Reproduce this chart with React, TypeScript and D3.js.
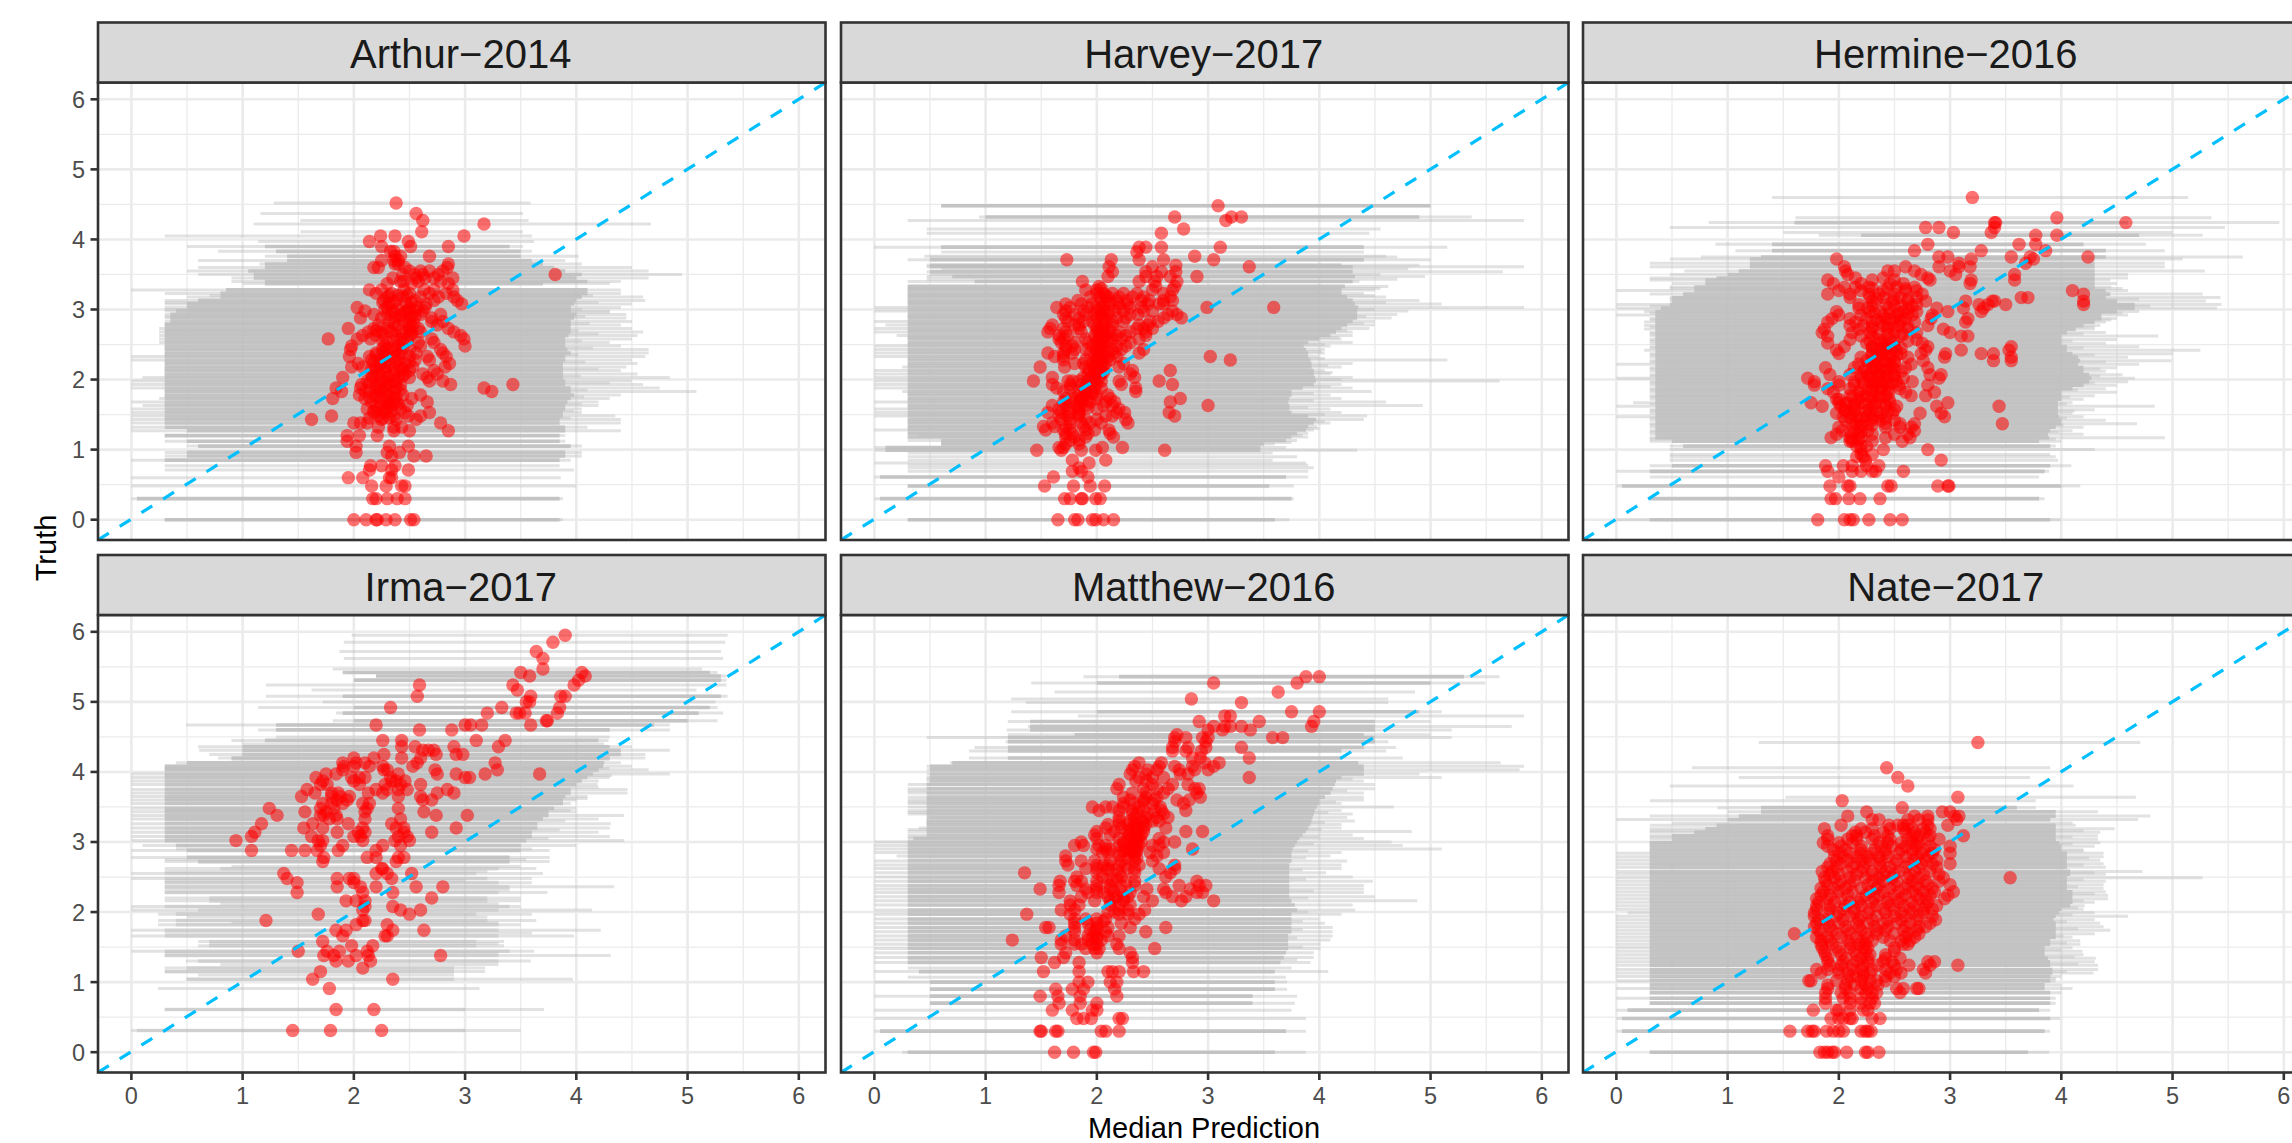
import React, { useEffect, useRef } from 'react';
import * as d3 from 'd3';

// each row: truth, lower, core lower, core upper, upper, then the medians at that truth
type Row = number[];

const stormNames = ['Arthur\u22122014', 'Harvey\u22122017', 'Hermine\u22122016', 'Irma\u22122017', 'Matthew\u22122016', 'Nate\u22122017'];
const tickValues = [0, 1, 2, 3, 4, 5, 6];
const minorValues = [0.5, 1.5, 2.5, 3.5, 4.5, 5.5];
// below this truth the grey is only a few stacked ranges, so it stays lighter
const thinCoreBelow = [0, 0, 0, 2.7, 0, 0];

const arthur: Row[] = [
  [4.52,1.28,0,0,3.59,2.38],[4.37,1.16,0,0,3.52,2.56],[4.27,1.52,0,0,3.57,2.62],[4.22,1.1,0,0,4.67,3.17],[4.11,1.52,0,0,3.52,2.61],
  [4.05,0.3,0,0,3.6,2.99,2.24,2.37],[3.97,1.14,0,0,3.62,2.14,2.49],[3.9,0.5,1.2,3.4,3.52,2.25,2.51,2.85],[3.83,0.78,1.3,3.5,3.6,2.36,2.33],
  [3.76,1.2,1.4,3.5,4.02,2.68,2.37,2.42],[3.7,0.6,1.4,3.6,3.9,2.25,2.36,2.4],[3.65,1.15,1.2,3.7,4.05,2.85,2.37,2.4],
  [3.6,0.6,1.2,3.8,4.5,2.22,2.18,2.84,2.46],[3.55,0.5,1.05,3.9,4.65,2.8,2.5,2.6,2.68],[3.5,0.6,1.1,4.05,4.95,3.81,2.44,2.55,2.62,2.76],
  [3.45,0.9,1.1,4,4.65,2.89,2.56,2.64,2.35,2.72],[3.4,0.9,1.2,4.1,4.4,2.45,2.58,2.42,2.78],[3.37,1,1.2,3.7,4.3,2.3,2.52,2.85],
  [3.28,0,0.85,4.1,4.4,2.14,2.25,2.45,2.63,2.72,2.89],[3.23,0.3,0.8,4.1,4.4,2.2,2.34,2.5,2.68,2.83],[3.18,0.5,0.8,4.05,4.6,2.3,2.44,2.6,2.76,2.9],
  [3.13,0.3,0.6,4,4.62,2.27,2.38,2.55,2.72,2.93],[3.08,0.3,0.5,3.98,4.5,2.32,2.47,2.65,2.97],[3.03,0.3,0.5,3.95,4.4,2.03,2.3,2.5,2.57,2.64],
  [2.98,0.3,0.4,3.95,4.3,2.1,2.34,2.48,2.55,2.62],[2.93,0.3,0.35,4,4.45,2.18,2.3,2.42,2.6,2.78],[2.88,0.3,0.35,3.98,4.45,2.06,2.25,2.37,2.5,2.7],
  [2.83,0.3,0.35,3.95,4.5,2.32,2.45,2.7,2.8],[2.78,0.3,0.3,3.95,4.4,2.22,2.4,2.52,2.75],[2.73,0.25,0.3,3.95,4.5,1.95,2.18,2.3,2.5,2.58,2.85],
  [2.68,0.25,0.3,3.95,4.6,2.13,2.24,2.34,2.52,2.6,2.9],[2.63,0.25,0.3,3.93,4.55,2.08,2.2,2.38,2.5,2.96],[2.58,0.25,0.3,3.9,4.5,1.77,2.03,2.15,2.42,2.7,2.99],
  [2.53,0.25,0.3,3.9,4.3,2.3,2.44,2.58,2.72],[2.48,0.3,0.3,3.9,4.4,1.98,2.28,2.4,2.6,3.0],[2.43,0.3,0.3,3.92,4.65,1.97,2.3,2.38,2.5,2.78],
  [2.38,0.3,0.3,3.95,4.65,2.2,2.26,2.42,2.56,2.8],[2.33,0,0.3,3.9,4.62,1.96,2.14,2.28,2.36,2.5,2.66,2.83],[2.28,0,0.3,3.9,4.5,2.16,2.24,2.4,2.55,2.68],
  [2.23,0.3,0.3,3.88,4.55,2.04,2.24,2.32,2.46,2.86],[2.18,0.3,0.3,3.88,4.45,1.98,2.08,2.2,2.3,2.42,2.53,2.82],[2.13,0.3,0.3,3.88,4.4,2.18,2.28,2.42,2.5,2.72],
  [2.08,0.3,0.3,3.88,4.55,2.22,2.36,2.46,2.62,2.75],[2.03,0.1,0.3,3.88,4.84,1.9,2.17,2.3,2.4,2.5,2.66],[1.98,0,0.3,3.9,4.5,2.12,2.26,2.36,2.68,2.8],
  [1.93,0,0.3,3.9,4.6,2.07,2.2,2.32,2.42,2.87,3.43],[1.88,0,0.3,3.95,4.75,1.84,2.06,2.2,2.28,2.38,3.17],[1.83,0.3,0.3,3.95,5.08,1.89,2.1,2.24,2.36,3.24],
  [1.78,0.3,0.3,3.98,4.4,2.05,2.2,2.32,2.44,2.6],[1.73,0.25,0.3,3.95,4.3,1.81,2.1,2.25,2.36,2.52],[1.68,0,0.3,3.92,4.2,2.16,2.3,2.38,2.66],
  [1.63,0.1,0.3,3.9,4.2,2.2,2.32,2.48],[1.58,0,0.3,3.9,4.05,2.12,2.22,2.3,2.42],[1.53,0,0.3,3.88,4.05,2.18,2.28,2.46,2.68],
  [1.48,0,0.3,3.88,4.35,1.8,2.22,2.36,2.49,2.6],[1.43,0,0.3,3.85,4.4,1.62,2.25,2.38,2.56],[1.38,0,0.3,3.85,4.4,2.0,2.06,2.12,2.78],
  [1.32,0,0.3,3.9,4.1,2.22,2.36,2.43],[1.27,0,0.5,3.9,4.4,2.36,2.5,2.85],[1.2,0.3,0.3,3.85,3.9,1.94,2.05,2.21],[1.12,0.3,0.5,3.85,3.9,1.94],
  [1.05,0.5,0.6,3.95,4.05,2.02,2.32,2.49],[0.96,0.3,0.5,3.9,4.05,2.02,2.3,2.41],[0.91,0.3,0.5,3.9,4.05,2.34,2.54,2.65],[0.85,0,0.3,3.85,3.95],
  [0.77,0.3,0,0,3.85,2.15,2.25,2.37],[0.71,0.3,0,0,3.98,2.14,2.34,2.49],[0.6,0,0,0,3.86,1.95,2.08,2.32,2.34],[0.48,0,0,0,4,2.16,2.29,2.43,2.46],
  [0.3,0,0.05,3.85,3.88,2.17,2.2,2.3,2.39,2.46],[0,0.3,0.3,3.85,3.88,2,2.11,2.2,2.21,2.29,2.37,2.51,2.54],
];

const arthurDense: Row[] = [
  [3.2,0.7,0,0,4.15,2.32,2.4,2.48],[3.1,0.3,0,0,4.2,2.26,2.36,2.52],[3.0,0.3,0,0,4.05,2.28,2.4,2.5],[2.96,0.5,0,0,4.3,2.36,2.46],[2.9,0.3,0,0,4.08,2.42,2.52,2.55],
  [2.8,0.3,0,0,4.12,2.36,2.5,2.54],[2.7,0.3,0,0,4.02,2.2,2.32,2.42,2.5],[2.65,0.3,0,0,4.2,2.26,2.44,2.52],[2.55,0.3,0,0,4.05,2.26,2.36,2.48],[2.45,0.3,0,0,4.15,2.26,2.34,2.44],
  [2.35,0.3,0,0,4.02,2.2,2.3,2.4],[2.25,0.3,0,0,4.08,2.18,2.28,2.38,2.5],[2.15,0.3,0,0,4.2,2.16,2.24,2.36,2.44],[2.05,0.3,0,0,4.04,2.16,2.24,2.32,2.44],[1.95,0.3,0,0,4.3,2.14,2.24,2.3,2.38],
  [1.85,0.3,0,0,4.1,2.14,2.22,2.3,2.42],[1.75,0.3,0,0,4.07,2.14,2.2,2.3,2.38],[1.65,0.3,0,0,4.05,2.24,2.3,2.36,2.4],[1.55,0.3,0,0,3.98,2.18,2.26,2.34],[1.45,0.3,0,0,3.95,2.14,2.26,2.32],
];

const harvey: Row[] = [
  [4.48,0.6,0.6,5,5,3.09],[4.32,0.94,1,4.9,5.37,2.7,3.21,3.3],[4.27,0.3,0,0,5.84,3.16],[4.15,0.47,0,0,4.55,2.78],[4.09,0.47,0,0,4.45,2.58],
  [3.89,0,0.6,4.4,5.15,2.58,2.44,2.38,3.11],[3.82,0.6,0,0,4.4,2.36],[3.76,0.45,0,0,4.6,2.88],[3.71,0.3,0.5,4.4,5,2.13,2.6,3.05,1.73,2.38],[3.63,0.47,0.5,4.2,4.9,2.71],
  [3.61,0.47,0.5,4.3,5.84,3.37,2.5,2.11],[3.54,0.47,0.5,4.3,5.65,2.14,2.44,2.58,2.71],[3.47,0.47,0.7,4.32,4.95,2.9,2.54,2.1,2.44,2.66],[3.4,0.3,0.9,4.3,4.36,1.87,2.38,2.52,2.72],
  [3.33,0.3,0.3,4.23,4.62,2.02,2.53,2.7],[3.28,0.3,0.3,4.2,4.5,1.9,2.0,2.5,2.68],[3.23,0.3,0.3,4.2,4.4,2.0,2.06,2.14,2.24,2.36,2.6],
  [3.18,0.3,0.3,4.25,4.6,1.94,2.03,2.1,2.2,2.32,2.42,2.66],[3.13,0.3,0.3,4.3,4.9,1.83,2.04,2.1,2.18,2.27,2.4,2.47,2.6,2.68],[3.08,0.3,0.3,4.32,5.1,1.72,1.86,1.96,2.07,2.12,2.2,2.28,2.46,2.56,2.6],
  [3.03,0,0.3,4.35,5.84,1.64,1.76,1.92,2.0,2.04,2.2,2.3,2.4,2.99,3.59],[2.98,0,0.3,4.34,4.8,1.72,1.88,2.0,2.06,2.1,2.16,2.24,2.42,2.5,2.68],[2.93,0.3,0.3,4.34,4.7,1.7,1.8,1.9,1.98,2.04,2.1,2.3,2.37,2.64,2.72],
  [2.88,0.3,0.3,4.34,4.65,1.72,1.84,2.0,2.05,2.18,2.26,2.6,2.76],[2.83,0,0.3,4.3,4.5,1.74,1.88,1.96,2.08,2.14,2.24,2.48,2.55],[2.78,0.1,0.3,4.25,4.5,1.6,1.8,1.84,1.98,2.06,2.14,2.38,2.46],
  [2.73,0,0.3,4.2,4.45,1.58,1.7,1.84,2.0,2.05,2.1,2.36,2.42,2.5],[2.68,0,0.3,4.15,4.3,1.56,1.72,1.86,2.0,2.06,2.12,2.2,2.3,2.44],[2.63,0.2,0.3,4.1,4.3,1.66,1.74,1.98,2.04,2.08,2.18,2.26,2.44],
  [2.58,0.3,0.3,4,4.2,1.66,1.7,1.9,2.02,2.06,2.14,2.22,2.38],[2.53,0.3,0.3,3.9,4.3,1.68,1.8,1.92,2.0,2.04,2.12,2.3],[2.48,0,0.3,3.86,4.1,1.72,1.78,1.96,2.0,2.06,2.18,2.26],
  [2.43,0,0.3,3.88,4.05,1.72,1.8,1.9,2.0,2.03,2.14,2.22,2.42],[2.38,0,0.3,3.9,4.05,1.56,1.7,1.78,1.94,2.0,2.06,2.16,2.38],[2.33,0,0.3,3.9,4.0,1.62,1.7,1.98,2.02,2.1,2.18,3.02],
  [2.28,0.3,0.3,3.92,5.15,1.7,1.9,2.0,2.04,2.12,3.2],[2.23,0.3,0.3,3.93,4.3,1.8,1.88,1.96,2.0,2.08,2.24],[2.18,0.25,0.3,3.93,4.2,1.49,1.71,1.9,1.98,2.04,2.2],
  [2.13,0,0.3,3.95,4.05,1.93,1.98,2.03,2.66,2.32],[2.08,0,0.3,3.95,4.1,1.92,1.98,2.04,2.3],[2.03,0,0.3,3.96,4.3,1.6,1.88,1.96,2.02,2.34],
  [1.98,0,0.3,3.97,5.62,1.43,1.74,1.78,1.84,1.92,1.98,2.04,2.56,2.2],[1.93,0,0.3,3.95,4.2,1.6,1.76,1.86,2.0,2.68,2.22],[1.88,0,0.3,3.85,4.3,1.64,1.76,1.9,1.98,2.04,2.35],
  [1.83,0.25,0.3,3.75,4.47,1.7,1.82,1.9,1.96,2.35],[1.78,0.3,0.3,3.75,4.1,1.84,1.9,2.0,2.1],[1.73,0.3,0.3,3.73,4.2,1.72,1.8,1.86,2.0,2.12,2.75],
  [1.68,0,0.3,3.72,4.6,1.7,1.76,1.84,1.94,2.08,2.66,2.16],[1.63,0.3,0.3,3.73,4.93,1.6,1.72,1.82,1.9,2.06,2.14,3.0],[1.58,0,0.3,3.73,4.1,1.66,1.74,1.84,2.0,2.2],
  [1.53,0,0.3,3.75,4.2,1.56,1.68,1.76,1.84,2.18,2.25,2.65],[1.48,0,0.3,3.9,4.43,1.66,1.74,1.84,2.08,2.14,2.7],[1.43,0.3,0.3,3.97,4.4,1.68,1.76,1.9,2.0,2.26],
  [1.38,0.3,0.3,3.95,4.1,1.6,1.76,1.86,1.94,2.04,2.28],[1.33,0.3,0.3,3.9,3.98,1.52,1.62,1.72,1.88],[1.28,0,0.3,3.88,3.95,1.54,1.7,1.76,1.9,1.98,2.11],
  [1.23,0.3,0.3,3.8,3.9,1.72,1.78,1.92,2.12],[1.18,0.3,0.3,3.75,3.9,1.72,1.8,1.9,2.15],[1.13,0.3,0.6,3.7,3.8,1.76,1.84],
  [1.08,0.6,0.6,3.5,3.6,1.72,1.84],[1.03,0,0.1,3.47,3.7,1.66,1.7,2.05,2.23],[0.99,0,0.1,3.47,4.34,1.46,1.68,1.86,1.99,2.61],
  [0.85,0.3,0,0,3.58,2.08,1.78],[0.81,0,0,0,3.88,1.93],[0.74,0.3,0,0,3.95,1.84],[0.69,0.3,0,0,3.9,1.78,1.86],[0.61,0,0.05,3.7,3.9,1.92,1.61],
  [0.48,0.3,0.3,3.55,3.77,1.53,1.79,1.94,2.07],[0.3,0,0.05,3.75,3.77,1.71,1.76,1.86,1.87,1.99,2.03],[0,0.3,0.3,3.6,3.73,1.65,1.8,1.83,1.96,1.99,2.06,2.15],
];

const harveyDense: Row[] = [
  [3.75,0.5,0,0,4.7],[3.58,0.6,0,0,4.8],[3.5,0.5,0,0,4.55],[3.43,0.47,0,0,4.7],[3.3,0.3,0,0,4.55,2.04],[3.2,0.3,0,0,4.5,2.08],[3.1,0.3,0,0,4.6],[3.0,0.3,0,0,4.5],
  [2.9,0.3,0,0,4.42,2.06],[2.8,0.3,0,0,4.4],[2.7,0.3,0,0,4.25,2.02],[2.6,0.3,0,0,4.18,2.02,2.1],[2.5,0.3,0,0,4.05,2.04],[2.4,0.3,0,0,4.02,2.04,2.1],[2.3,0.3,0,0,4.05,2.02,2.06],
  [2.2,0.3,0,0,4.08,2.0,2.06],[2.1,0.3,0,0,4.12,2.0,2.06],[2.0,0.3,0,0,4.2,1.94],[1.9,0.3,0,0,4.1,1.9,1.94],[1.8,0.3,0,0,3.95,1.9,1.96],[1.7,0.3,0,0,3.95,1.86,1.92],[1.6,0.3,0,0,3.9,1.84,1.92],[1.5,0.3,0,0,4.05,1.84],[1.4,0.3,0,0,4.05],[1.3,0.3,0,0,4.0],
  [1.2,0.4,0,0,3.85],[1.1,0.6,0,0,3.75],[0.95,0.3,0,0,3.58],[0.9,0.3,0,0,3.8],[0.78,0.3,0,0,3.9],
];

const hermine: Row[] = [
  [4.6,1.4,0,0,5.14,3.2],[4.31,1.61,0,0,5.35,3.96],[4.24,0.83,1.6,4.6,5.96,4.58,3.41,3.4],[4.17,0.48,0,0,5.47,2.78,2.9,3.4],[4.1,1.5,0,0,5,3.03,3.37],
  [4.06,1.82,2.2,4.7,5.27,3.77,3.96],[3.93,0.89,1.4,4.2,4.76,2.8,3.62,3.77],[3.84,1.07,1.4,4.4,4.93,2.68,3.28,3.86],[3.75,0.76,1.3,4.4,5.63,3.55,2.98,4.24,2.9,3.72],
  [3.72,0.48,1.2,4.3,5.09,1.98,3.19,3.75],[3.66,0.3,1.2,4.3,4.93,3.68,3.08],[3.61,0.3,1.2,4.3,4.93,2.05,2.6,2.9,3.18,3.08],[3.55,0.61,1.1,4.3,5.29,2.06,2.44,2.5,2.68,3.0],
  [3.5,0.48,1,4.3,4.6,2.08,2.74,3.05,3.58],[3.45,0.3,0.9,4.3,4.6,2.15,2.4,2.8],[3.42,0.3,0.8,4.3,4.44,1.9,2.3,2.5,2.82,3.19,3.58],[3.37,0.5,0.8,4.3,4.5,1.95,2.2,2.58,2.46,3.18],
  [3.32,0.48,0.7,4.3,4.45,2.05,2.15,2.27,2.52,2.68],[3.27,0,0.7,4.4,4.6,2.0,2.2,2.4,2.6,2.7,4.1],[3.22,0.3,0.6,4.44,5.27,1.9,2.1,2.27,2.36,2.5,2.75,4.2],
  [3.17,0.48,0.5,4.4,5.43,2.1,2.28,2.4,2.55,2.7,3.64,3.7],[3.12,0.48,0.5,4.5,5.3,2.3,2.48,2.62,2.78,3.14,3.38,3.4,4.2],[3.07,0,0.48,4.66,5.44,2.18,2.7,2.42,3.34,3.26,3.5,4.2],
  [3.02,0,0.4,4.66,5.4,2.18,2.26,2.45,2.62,2.88,3.12,3.3],[2.97,0.25,0.35,4.5,4.7,1.98,2.28,2.37,2.58,2.7,2.98,3.28],[2.92,0,0.35,4.36,4.6,2.0,2.2,2.4,2.52,2.66,2.84],
  [2.87,0.3,0.35,4.36,4.5,1.94,2.1,2.25,2.42,2.5,2.6,2.83,3.16],[2.82,0.25,0.35,4.3,4.4,1.9,2.15,2.3,2.38,2.55,2.68,3.14],[2.77,0.25,0.35,4.2,4.35,2.1,2.22,2.4,2.54,2.8],
  [2.72,0.25,0.35,4.13,4.3,1.87,2.18,2.3,2.44,2.62,2.94],[2.67,0.3,0.35,4.05,4.4,1.85,2.12,2.28,2.5,2.7,3.0],[2.62,0.3,0.35,4,4.87,1.9,2.2,2.3,2.55,3.1,3.16],
  [2.57,0.3,0.35,4,4.5,2.1,2.36,2.46,2.7],[2.52,0.3,0.35,4,4.4,1.9,2.25,2.38,2.44,2.75],[2.47,0.3,0.35,4.05,4.7,2.05,2.3,2.42,2.5,2.8,3.55],
  [2.42,0.25,0.35,4.05,5.25,1.98,2.34,2.42,2.52,2.78,3.53,3.1],[2.37,0.3,0.35,4.1,5,2.0,2.3,2.4,2.56,2.74,3.28,3.39,2.96],[2.32,0.3,0.35,4.15,4.6,2.2,2.34,2.46,2.62,2.95,3.55],
  [2.27,0.3,0.35,4.17,4.99,2.25,2.4,2.5,2.76,3.55,3.39],[2.22,0,0.35,4.15,4.7,2.18,2.33,2.46,2.65],[2.17,0.3,0.35,4.2,4.5,1.88,2.14,2.32,2.48,2.6,2.8],
  [2.12,0.3,0.35,4.2,4.4,2.22,2.34,2.42,2.56],[2.07,0.3,0.35,4.25,4.55,1.92,2.1,2.26,2.38,2.5,2.82,2.92],[2.02,0,0.35,4.27,4.66,1.72,2.2,2.3,2.42,2.58,2.9],
  [1.97,0.3,0.35,4.25,4.6,1.78,2.0,2.14,2.28,2.38,2.52,2.66],[1.92,0.3,0.35,4.2,4.5,1.78,2.0,2.14,2.32,2.44,2.54,2.8],[1.87,0.3,0.35,4.1,4.4,1.9,2.1,2.26,2.38,2.55],
  [1.82,0.3,0.35,4,4.5,1.95,2.18,2.3,2.45,2.6,2.86],[1.77,0.3,0.35,4,4.3,2.1,2.24,2.36,2.42,2.65,2.78],[1.72,0.3,0.35,4,4.2,1.98,2.0,2.18,2.3,2.45],
  [1.67,0.15,0.35,3.97,4.1,1.75,2.0,2.08,2.2,2.34,2.46,2.98],[1.62,0,0.35,3.97,4.84,1.85,2.02,2.14,2.3,2.42,2.52,2.88,3.44],[1.57,0.3,0.35,3.97,4.3,2.05,2.14,2.26,2.5],
  [1.52,0.3,0.35,3.97,4.1,1.98,2.1,2.28,2.38,2.48,2.73,2.92],[1.47,0,0.35,3.98,4.2,2.04,2.16,2.25,2.36,2.95],[1.42,0.3,0.35,4,4.4,2.06,2.18,2.3,2.38,2.5],
  [1.37,0.3,0.35,4,4.68,2.15,2.26,2.42,2.55,2.68,3.47],[1.32,0.3,0.35,3.95,4.2,2.0,2.2,2.42,2.55,2.65],[1.27,0.3,0.35,3.9,4.1,2.03,2.14,2.26,2.68],
  [1.22,0.3,0.35,3.88,4.2,1.98,2.18,2.3,2.5,2.62],[1.17,0.3,0.35,3.89,4.93,1.93,2.1,2.2,2.42,2.64],[1.12,0.3,0.5,3.8,4.0,2.1,2.12,2.3,2.57],
  [1.05,0.48,0.6,3.9,3.95,2.16,2.25,2.2],[1,0.48,0,0,4.3,2.2,2.4,2.8],[0.93,0.48,0,0,3.9,2.2,2.3],[0.85,0.48,0,0,3.97,2.24,2.92],[0.77,0.3,0.5,3.9,4.09,1.88,2.04,2.12,2.25,2.36],
  [0.69,0,0.3,3.85,3.89,1.9,2.12,2.2,2.3,2.33,2.58],[0.61,0.3,0,0,3.8,2.0],[0.48,0,0.05,4,4.17,1.92,2.08,2.1,2.44,2.47,2.89,2.98,2.99],[0.3,0.3,0.3,3.8,3.85,1.93,1.97,2.09,2.19,2.37],
  [0,0,0.3,3.9,4,1.81,2.05,2.1,2.13,2.27,2.46,2.57],
];

const hermineDense: Row[] = [
  [3.3,0.48,0,0,4.55,2.3,2.44,2.6],[3.15,0.48,0,0,4.7,2.34,2.5,2.62],[3.05,0.3,0,0,4.8,2.3,2.5,2.56,2.66],[2.95,0.3,0,0,4.55,2.32,2.46,2.54,2.62],[2.85,0.3,0,0,4.45,2.34,2.46,2.56],
  [2.75,0.3,0,0,4.3,2.3,2.44,2.5,2.62],[2.65,0.3,0,0,4.2,2.36,2.44,2.58],[2.55,0.3,0,0,4.1,2.28,2.4,2.5,2.62],[2.45,0.3,0,0,4.2,2.3,2.38,2.46,2.56],[2.35,0.3,0,0,4.3,2.3,2.38,2.46,2.52],
  [2.25,0.3,0,0,4.4,2.3,2.36,2.42,2.5],[2.15,0.3,0,0,4.35,2.24,2.3,2.38,2.44,2.5],[2.05,0.3,0,0,4.35,2.2,2.28,2.36,2.44,2.5],[1.95,0.3,0,0,4.3,2.22,2.3,2.36,2.42,2.48],[1.85,0.3,0,0,4.15,2.2,2.3,2.38,2.44],
  [1.75,0.3,0,0,4.08,2.12,2.2,2.3,2.36],[1.65,0.3,0,0,4.05,2.06,2.14,2.24,2.32,2.42],[1.55,0.3,0,0,4.12,2.06,2.14,2.24,2.34,2.44],[1.45,0.3,0,0,4.05,2.1,2.2,2.3,2.42],[1.35,0.3,0,0,4.02,2.12,2.2,2.3],
  [1.25,0.3,0,0,3.98,2.1,2.2],[1.15,0.3,0,0,3.95,2.12,2.18],[0.9,0.48,0,0,3.95,2.16,2.22],
];

const irma: Row[] = [
  [5.95,1.98,0,0,5.36,3.9],[5.85,1.91,0,0,5.34,3.79],[5.72,1.87,0,0,5.3,3.64],[5.62,1.91,0,0,5.32,3.7],[5.47,1.81,0,0,5.13,3.7],[5.42,1.96,1.9,5.2,5.27,3.5,4.05],
  [5.37,2.2,2.2,5.3,5.35,3.58,4.08],[5.31,2,2,5.3,5.35,4.02],[5.24,1.21,0,0,5.35,2.59,3.43,3.98],[5.17,1.62,0,0,5.08,3.47],[5.08,1.21,1.9,5.3,5.36,2.57,3.59,3.86,3.9],
  [5.0,1.72,0,0,5.25,3.58,3.55],[4.92,1.14,2,5.2,5.27,2.33,3.33,3.85],[4.84,1.84,1.9,5.1,5.32,3.2,3.46,3.49,3.54,3.83],[4.73,1.81,2,5,5.27,3.74,3.73],
  [4.67,0.49,1.3,4.7,4.84,2.2,3,3.05,3.15,3.59],[4.6,1.14,1.3,4.3,4.84,2.59,2.88],[4.45,0.9,1.2,4.2,4.29,2.26,3.36,2.43,3.1],[4.36,0.6,1,4.3,4.5,2.43,2.9,2.55,3.3],
  [4.31,0.61,1,4.4,4.84,2.62,2.67,2.72],[4.25,0.7,1,4.4,4.62,2.27,2.92,2.74,2.98],[4.2,0.78,0.9,4.3,4.62,2.0,2.18,2.43,2.6],[4.13,0.4,0.5,4.25,4.4,1.9,2.02,2.1,3.27,2.57],
  [4.08,0.3,0.3,4.24,4.5,1.91,2.0,2.14,2.53,2.26],[4.03,0.3,0.3,4.2,4.65,1.9,2.27,2.3,2.73,3.29],[3.97,0,0.3,4.15,4.84,1.75,1.84,2.4,2.75,2.92,3.18,3.67],[3.92,0,0.3,4.1,4.3,1.66,1.98,2.05,2.1,2.33,3.0,3.04],
  [3.87,0,0.3,4.05,4.2,1.72,2.0,2.34,2.38,2.46],[3.82,0,0.3,4,4.19,1.7,1.76,2.05,2.28,2.42,2.6],[3.75,0,0.3,3.95,4.46,1.58,2.2,2.3,2.4,2.48,2.84],[3.7,0,0.3,3.95,4.46,1.65,1.8,1.86,2.13,2.26,2.75,2.9],
  [3.65,0,0.3,3.9,4.1,1.53,1.8,1.88,1.96,2.4,2.6],[3.6,0,0.3,3.88,4.0,1.85,1.94,2.7,2.62],[3.55,0,0.3,3.88,3.95,1.72,1.8,1.9,2.08,2.14],[3.48,0,0.3,3.8,4.0,1.24,1.7,1.82,2.4,2.12],
  [3.43,0,0.3,3.75,4.0,1.56,1.75,2.1,2.63],[3.38,0,0.3,3.75,4.43,1.31,1.73,1.84,1.7,2.74,3.02],[3.33,0,0.3,3.7,4.2,1.78,1.85,2.42,2.1],[3.26,0,0.3,3.65,4.31,1.17,1.63,1.95,2.34],
  [3.2,0,0.3,3.65,4.3,1.55,1.72,2.08,2.38,2.45,2.92],[3.14,0,0.3,3.6,4.2,1.11,1.85,2.04,2.1,2.45,2.7],[3.08,0,0.3,3.6,4.3,1.08,1.62,2.0,2.06,2.4,2.48],[3.02,0,0.3,3.55,4.43,0.94,1.68,1.72,2.08,2.5,2.37],
  [2.95,0.1,0.4,3.5,4,1.7,1.9,2.26,2.42],[2.88,0,0.5,3.5,3.76,1.08,1.44,1.56,1.67,1.86,2.2],[2.78,0,0.5,3.4,3.76,1.73,2.12,2.2,2.4,2.45],[2.72,0.3,0.6,3.4,3.76,1.72,2.38],
  [2.62,0.3,0.8,3.3,3.64,2.26,2.25],[2.55,0,0.3,3.1,3.7,1.37,2.2,2.3,2.52],[2.48,0,0.3,3.2,3.6,1.4,1.85,2.0,1.96,2.34],[2.42,0.3,0.3,3.3,3.6,1.49,2.0],
  [2.36,0.3,0.3,3.4,4.34,1.85,2.06,2.2,2.56,2.8],[2.28,0.3,0.3,3.3,3.74,1.49,2.08,2.35],[2.2,0.3,0.7,3.2,3.5,2.7],[2.16,0.3,0.7,3.2,3.5,1.93,2.02,2.1],
  [2.08,0,0.3,3.4,3.5,2.1,2.35],[2.03,0,0.6,3.3,4.14,2.42,2.08,2.6],[1.97,0.24,0.4,3.1,3.6,1.68,2.5],[1.88,0.24,0.4,3.2,3.64,1.21,2.08,2.1],
  [1.82,0.24,0.4,3.3,3.5,2.02,2.3],[1.74,0,0.3,3.3,4.22,1.84,1.93,2.63,2.35],[1.66,0,0.3,3.3,3.98,1.9,2.3,2.28],[1.58,0.6,0.7,3.1,3.35,1.72],
  [1.52,0.6,0.7,3.1,3.35,1.98,2.17],[1.44,0,0.3,3.4,3.62,1.76,1.87,1.5,2.12],[1.38,0.3,0.3,3.3,4.31,1.73,2.02,2.13,2.78,1.82],[1.3,0.49,0.6,3.3,3.59,1.84,1.95,2.15],
  [1.2,0.3,0.5,2.9,3.18,2.08],[1.15,0.3,0.3,2.9,3.18,1.7],[1.04,0.49,0.5,2.9,3.97,1.63,2.35],[0.91,0.24,0,0,3.13,1.78],[0.61,0.3,0.3,3,3.71,1.84,2.18],
  [0.31,0,0.05,3,3.5,1.45,1.79,2.25],
];

const irmaDense: Row[] = [
  [4.5,1.3,0,0,4.3],[4.4,1.0,0,0,4.25],[4.18,0.9,0,0,4.3],[4.05,0.3,0,0,4.3],[3.95,0.3,0,0,4.32],[3.78,0.3,0,0,4.2],[3.62,0.3,0,0,4.1],[3.45,0.3,0,0,3.95],[3.3,0.3,0,0,3.9],[3.17,0.3,0,0,3.85],[3.05,0.3,0,0,3.75],
  [2.9,0.4,0,0,3.6],[2.75,0.3,0,0,3.55],[2.65,0.9,0,0,3.5],[2.58,0.3,0,0,3.2],[2.45,0.3,0,0,3.0],[2.32,0.3,0,0,3.4],[2.12,0.8,0,0,3.3],[1.93,0.5,0,0,3.2],[1.85,0.9,0,0,3.3],[1.7,0.3,0,0,3.6],[1.55,0.7,0,0,3.3],[1.42,0.3,0,0,3.3],[1.25,0.8,0,0,3.3],[1.1,0.6,0,0,2.9],
];

const matthew: Row[] = [
  [5.36,1.88,2.2,5.3,5.62,3.88,4],[5.27,1.41,2,5,5.49,3.8,3.05],[5.14,1.62,0,0,4.86,3.63],[5.04,1.23,0,0,4.62,2.85],[4.99,1.36,0,0,4.62,3.3],[4.86,1.23,2,4.9,5.1,3.75,4],
  [4.8,1.83,0,0,5.84,3.2,3.15],[4.72,1.2,1.4,4.5,5,2.92,3.46,3.95],[4.65,1.38,1.4,4.5,5.73,3.05,3.15,3.2,3.3,3.93],[4.6,1.19,1.4,4.5,5.19,3.0,3.13,3.38],
  [4.53,1.2,1.8,4.4,5,2.72],[4.49,0.47,1.2,4.5,5.19,2.7,2.8,2.95,3.0,3.58,3.67],[4.43,1.18,1.2,4.5,4.62,2.7,2.98],[4.35,0.9,1.2,4.4,4.69,2.68,2.82,3.3,2.98],[4.3,0.85,1.2,4.2,4.6,2.68,2.8,2.94],
  [4.2,0.85,1.2,4.2,4.75,2.93,2.86,3.37],[4.13,0.68,0.7,4.35,5.63,2.38,2.58,2.97,3.1],[4.08,0.47,0.5,4.4,5.84,2.34,2.56,2.7,2.86,3.05],[4.03,0.47,0.5,4.4,5.8,2.32,2.46,2.54,2.74,2.88,3.0],
  [3.97,0.47,0.5,4.4,4.9,2.3,2.44,2.75,2.82],[3.92,0.47,0.5,4.2,5.1,2.38,2.5,2.6,3.37],[3.87,0.47,0.5,4.15,4.4,2.35,2.45],[3.82,0.3,0.47,4.14,4.5,2.2,2.5,2.68,2.82],
  [3.76,0.3,0.47,4.12,4.5,2.18,2.42,2.54,2.64,2.88,2.92],[3.7,0.3,0.47,4.1,4.4,2.32,2.44,2.6,2.9],[3.64,0.3,0.47,4.05,4.4,2.24,2.44,2.54,2.93],[3.6,0.3,0.47,4.0,4.4,2.3,2.42,2.52,2.72,2.83],
  [3.55,0.3,0.47,4.0,4.2,2.24,2.34,2.5,2.78],[3.5,0.3,0.47,3.98,4.67,1.96,2.08,2.14,2.24,2.38,2.57],[3.45,0.3,0.47,3.96,4.2,2.02,2.2,2.32,2.42,2.52,2.58,2.8],[3.4,0.3,0.47,3.95,4.3,2.32,2.46,2.6],
  [3.35,0.5,0.47,3.94,4.25,2.2,2.34,2.44,2.54,2.64],[3.3,0.47,0.47,3.93,4.32,2.2,2.3,2.4,2.5,2.56],[3.25,0.47,0.47,3.92,4.2,2.1,2.2,2.28,2.36,2.44],[3.2,0.4,0.47,3.9,4.2,2.08,2.22,2.34,2.42,2.62],
  [3.15,0.3,0.47,3.88,4.83,2.0,2.16,2.28,2.36,2.42,2.8,2.95],[3.1,0.3,0.47,3.85,4.3,1.98,2.12,2.3,2.4],[3.05,0.3,0.35,3.82,4.4,2.0,2.2,2.3,2.36,2.56],[3.0,0,0.3,3.8,4.65,1.86,2.24,2.34,2.4,2.6,2.7],
  [2.95,0,0.3,3.78,4.75,1.8,1.88,2.02,2.08,2.2,2.32,2.38,2.5,2.56],[2.9,0,0.3,3.76,5.1,2.0,2.08,2.12,2.26,2.3,2.36,2.86],[2.85,0,0.3,3.75,4.2,2.05,2.1,2.2,2.3,2.34,2.48,2.6],[2.8,0.2,0.3,3.75,4.1,1.72,2.2,2.34,2.54],
  [2.73,0,0.3,3.75,4.25,1.72,1.86,1.98,2.12,2.22,2.34,2.5],[2.67,0,0.3,3.73,4.2,1.74,2.0,2.06,2.1,2.2,2.26,2.38,2.7],[2.62,0,0.3,3.73,4.2,1.9,2.0,2.1,2.28,2.34,2.56,2.7],[2.56,0,0.3,3.73,4.06,1.35,2.0,2.2,2.34,2.66],
  [2.5,0,0.3,3.73,4.3,1.82,2.05,2.22,2.62],[2.44,0,0.3,3.73,4.48,1.67,1.8,1.86,2.0,2.14,2.26,2.34,2.9],[2.38,0,0.3,3.73,4.4,1.66,1.82,2.0,2.12,2.22,2.34,2.74,2.92,2.98],[2.33,0,0.3,3.73,4.4,1.49,1.9,2.0,2.12,2.45,2.6,2.84],
  [2.28,0,0.3,3.73,4.4,1.66,1.92,2.0,2.06,2.3,2.62,2.9,2.95],[2.22,0,0.3,3.73,4.5,1.86,2.1,2.18,2.28,2.42,2.68,2.8],[2.16,0,0.3,3.75,4.88,1.76,1.98,2.12,2.24,2.5,3.05,2.76],[2.1,0,0.3,3.78,4.3,1.76,1.84,2.12,2.2,2.3],
  [2.03,0,0.3,3.8,4.32,1.68,1.8,2.2,2.28,2.43],[1.97,0,0.3,3.75,4.2,1.37,1.76,2.2,2.28,2.38],[1.9,0,0.3,3.75,4,1.8,1.9,2.0,2.08,2.34],[1.84,0,0.3,3.75,4.05,1.8,1.92,2.0,2.22],
  [1.78,0,0.3,3.75,4.12,1.54,1.57,1.8,2.0,2.1,2.62,2.3],[1.72,0,0.3,3.75,4.12,1.8,1.98,2.08,2.44],[1.66,0,0.3,3.72,4.12,1.72,1.92,2.0,2.1,2.2],[1.6,0,0.3,3.72,4.1,1.24,1.68,1.8,1.92,2.04],
  [1.54,0,0.3,3.72,4.01,1.68,1.8,1.86,1.96,2.0,2.18],[1.48,0,0.3,3.72,4.01,1.9,1.98,2.02,2.2,2.52],[1.42,0,0.3,3.7,3.95,1.72,2.0,2.3],[1.35,0,0.3,3.68,3.95,1.5,1.7,2.32],
  [1.28,0,0.3,3.65,3.92,1.62,1.84,2.32],[1.15,0,0.4,3.6,4.08,1.52,1.84,2.1,2.14,2.2,2.33,2.42],[1.0,0,0.5,3.6,3.71,1.84,1.92,2.12,2.18],[0.9,0.5,0.5,3.6,3.71,1.63,1.78,1.88,2.16],
  [0.8,0,0.5,3.4,3.8,1.49,1.65,1.85,2.18],[0.7,0.5,0.5,3.4,3.78,1.66,1.85,2.0],[0.6,0,0,0,3.75,2.0,1.6,1.78,1.96],[0.48,0,0,0,3.88,1.82,1.88,1.95,2.2,2.23],
  [0.3,0,0.05,3.7,3.88,1.49,1.5,1.63,1.65,2.04,2.08,2.2],[0,0.25,0.3,3.6,3.88,1.62,1.79,1.97,1.99],
];

const matthewDense: Row[] = [
  [3.9,0.47,0,0,4.3],[3.73,0.3,0,0,4.25],[3.57,0.3,0,0,4.15,2.42],[3.42,0.3,0,0,4.08,2.36],[3.28,0.47,0,0,4.05,2.34,2.42],[3.18,0.3,0,0,4.02,2.3,2.36],[3.07,0.3,0,0,4.0,2.28,2.34,2.38],[2.97,0.3,0,0,3.95,2.24,2.32,2.36],
  [2.87,0.3,0,0,3.9,2.24,2.3,2.36],[2.77,0.3,0,0,3.88,2.28,2.36],[2.6,0.3,0,0,3.85,2.1,2.18],[2.47,0.3,0,0,3.88,2.1,2.18],[2.3,0.3,0,0,3.95,2.15,2.22],[2.2,0.3,0,0,3.9,2.16,2.24],[2.0,0.3,0,0,3.9,2.1,2.16],[1.87,0.3,0,0,3.85,2.06],
  [1.75,0.3,0,0,3.85,1.94,2.0],[1.63,0.3,0,0,3.8,1.96,2.0],[1.5,0.3,0,0,3.85],[1.32,0.3,0,0,3.8],[1.2,0.3,0,0,3.75],[1.07,0.3,0,0,3.7],
];

const nate: Row[] = [
  [4.42,1.28,0,0,4.71,3.25],[4.06,0.68,0,0,3.9,2.43],[3.92,1.1,0,0,3.72,2.53],[3.8,0.48,0,0,4.11,2.62],[3.64,1.52,0,0,4.67,3.07],[3.59,0.3,0,0,3.77,2.03],
  [3.49,0.91,1.3,3.6,3.77,2.57],[3.43,1,1.3,3.95,4.33,2.25,2.93,3.0],[3.37,0.3,1.1,3.95,4.8,2.08,2.68,2.8,3.04,3.08],[3.32,0,1,3.9,4.69,2.3,2.36,2.62,2.72,2.8,3.06],
  [3.24,0.3,0.9,3.95,4.13,2.02,2.45,2.53,2.58,2.62,2.8,2.98],[3.19,0.3,0.8,3.95,4.48,1.87,2.2,2.3,2.46,2.58,2.66,2.76,2.82],[3.14,0.3,0.7,3.95,4.35,2.15,2.24,2.4,2.6,2.68,2.78],[3.09,0.3,0.5,3.95,4.33,1.9,2.12,2.16,2.32,2.44,2.66,2.72,2.82,3.12],
  [3.04,0.3,0.5,3.95,4.33,1.9,2.08,2.16,2.3,2.46,2.62,2.7,2.8,2.9],[2.99,0.3,0.3,3.98,4.35,1.86,2.0,2.12,2.36,2.44,2.56,2.66,2.72],[2.94,0.3,0.3,4,4.3,1.9,2.02,2.2,2.38,2.48,2.6,2.7,2.82,3.0],[2.89,0.3,0.3,4,4.2,1.95,2.06,2.2,2.32,2.42,2.56,2.66,2.76,2.86],
  [2.84,0,0.3,4.05,4.38,2.0,2.1,2.2,2.3,2.42,2.54,2.66,2.74,2.84,3.0],[2.79,0,0.3,4.05,4.38,1.96,2.04,2.16,2.26,2.36,2.44,2.6,2.7,2.8],[2.74,0,0.3,4.05,4.35,1.98,2.08,2.2,2.28,2.38,2.52,2.68,2.78,2.88],[2.69,0,0.3,4.05,4.38,1.92,2.02,2.14,2.24,2.36,2.5,2.62,2.74,2.84,3.0],
  [2.64,0,0.3,4.05,4.4,1.9,1.98,2.12,2.22,2.38,2.46,2.6,2.72,2.88],[2.58,0,0.3,4.08,4.73,1.85,1.94,2.08,2.2,2.3,2.42,2.54,2.68,2.82],[2.54,0,0.3,4.08,4.4,1.92,2.0,2.16,2.3,2.4,2.5,2.64,2.76,2.9],[2.49,0,0.3,4.05,5.27,1.87,1.96,2.1,2.24,2.36,2.48,2.62,2.72,2.94,3.54],
  [2.44,0,0.3,4.05,4.4,1.88,2.02,2.14,2.3,2.4,2.52,2.66,2.78,2.9],[2.39,0,0.3,4.05,4.38,1.9,2.0,2.1,2.26,2.36,2.5,2.62,2.7,2.8,3.0],[2.34,0,0.3,4.05,4.38,1.84,1.95,2.06,2.2,2.34,2.46,2.6,2.72,2.84],[2.29,0,0.3,4.1,4.4,1.86,2.0,2.12,2.28,2.4,2.54,2.66,2.76,2.86,3.03],
  [2.24,0,0.3,4.1,4.42,1.84,1.92,2.08,2.24,2.36,2.5,2.6,2.7,2.82,2.98],[2.19,0,0.3,4.1,4.42,1.8,1.9,2.02,2.2,2.32,2.44,2.56,2.72,2.78,2.95],[2.14,0,0.3,4.1,4.3,1.82,1.96,2.1,2.18,2.3,2.44,2.54,2.66,2.8],[2.09,0,0.3,4.08,4.21,1.8,1.92,2.06,2.2,2.34,2.46,2.58,2.68,2.78,2.88],
  [2.04,0,0.3,4,4.2,1.8,1.92,2.04,2.14,2.28,2.4,2.5,2.64,2.76,2.84],[1.99,0.1,0.3,3.98,4.3,1.78,1.9,2.0,2.14,2.26,2.42,2.56,2.66,2.76],[1.94,0,0.3,3.95,4.6,1.78,1.98,2.1,2.2,2.34,2.5,2.6,2.72,2.84],[1.89,0,0.3,3.93,4.3,1.82,1.88,2.04,2.18,2.3,2.44,2.56,2.7,2.87],
  [1.84,0,0.3,3.95,4.35,1.8,1.9,2.0,2.16,2.26,2.4,2.52,2.64,2.82],[1.79,0,0.3,3.95,4.38,1.78,1.92,2.06,2.18,2.32,2.44,2.6,2.72,2.78],[1.74,0,0.3,3.95,4.44,1.82,1.94,2.08,2.2,2.34,2.42,2.58,2.7],[1.69,0,0.3,3.95,4.3,1.6,1.84,1.98,2.1,2.24,2.34,2.5,2.62,2.72],
  [1.64,0,0.3,3.95,4.1,1.8,1.9,2.02,2.16,2.26,2.4,2.6,2.68],[1.59,0,0.3,3.9,4.17,1.84,1.92,2.08,2.2,2.3,2.46,2.56,2.64],[1.54,0,0.3,3.9,4.17,1.84,1.94,2.1,2.18,2.24,2.58,2.62],[1.49,0,0.3,3.85,4.1,1.85,1.98,2.1,2.22,2.26,2.5],
  [1.44,0,0.3,3.85,4.19,1.87,2.0,2.14,2.24,2.5],[1.39,0,0.3,3.85,4.2,1.88,2.02,2.16,2.28,2.42],[1.34,0,0.3,3.88,4.31,1.9,2.06,2.2,2.26,2.42,2.55],[1.29,0,0.3,3.9,4.3,1.9,2.04,2.16,2.26,2.4,2.48,2.8,2.86],
  [1.24,0,0.3,3.9,4.33,1.92,2.02,2.12,2.22,2.35,2.5,2.63,2.82,3.07],[1.18,0,0.3,3.92,4.33,1.8,1.9,2.0,2.12,2.2,2.3,2.42,2.52,2.76],[1.13,0,0.3,3.92,4.29,1.84,2.0,2.08,2.22,2.28,2.46,2.56,2.78],[1.08,0,0.3,3.9,4,2.1,2.16,2.22,2.42,2.5],
  [1.02,0,0.3,3.9,3.95,1.73,1.75,1.98,2.08,2.2,2.28,2.34,2.42],[0.96,0.3,0.3,3.85,4,1.9,2.06,2.14,2.24,2.35],[0.91,0,0.3,3.85,4.1,1.9,2.06,2.2,2.26,2.52,2.58,2.7,2.72],[0.85,0.3,0.3,3.9,4,1.88,2.02,2.1,2.24,2.3,2.34,2.55],
  [0.77,0,0.3,3.9,3.95,1.88,2.04,2.1,2.2,2.3],[0.7,0.3,0.3,3.9,3.95,1.88,2.1,2.2,2.28,2.32],[0.6,0,0.1,3.8,3.9,1.77,1.98,2.0,2.1,2.22,2.26],[0.48,0,0.05,3.9,3.99,1.93,2,2.04,2.1,2.12,2.3,2.37],
  [0.3,0,0.05,3.85,3.9,1.56,1.72,1.78,1.76,1.89,1.95,2.0,2.04,2.2,2.24,2.26,2.29],[0,0.3,0.3,3.7,3.89,1.83,1.87,1.9,1.94,1.96,2.07,2.24,2.26,2.36],
];

const nateDense: Row[] = [
  [3.27,0.5,0,0,4.1],[3.16,0.3,0,0,4.2],[3.07,0.3,0,0,4.1],[2.97,0.3,0,0,4.1],[2.87,0.3,0,0,4.2],[2.77,0.3,0,0,4.25],[2.67,0.3,0,0,4.2],[2.56,0.3,0,0,4.3],[2.46,0.3,0,0,4.2],[2.36,0.3,0,0,4.15],[2.26,0.3,0,0,4.3],
  [2.16,0.3,0,0,4.2],[2.06,0.3,0,0,4.15],[1.96,0.3,0,0,4.1],[1.86,0.3,0,0,4.05],[1.76,0.3,0,0,4.15],[1.66,0.3,0,0,4.02],[1.56,0.3,0,0,4.05],[1.46,0.3,0,0,4.0],[1.36,0.3,0,0,4.12],[1.26,0.3,0,0,4.15],[1.15,0.3,0,0,4.05],[1.05,0.3,0,0,3.95],
];

const stormRows = [
  arthur.concat(arthurDense), harvey.concat(harveyDense), hermine.concat(hermineDense),
  irma.concat(irmaDense), matthew.concat(matthewDense), nate.concat(nateDense),
];

const lefts = [98, 841, 1583];
const tops = [82.5, 615];
const panelW = 727.5;
const panelH = 457.5;
const stripH = 60;
const sans = '"Liberation Sans", Arial, sans-serif';

export default function App() {
  const ref = useRef<SVGSVGElement | null>(null);

  useEffect(() => {
    const svg = d3.select(ref.current);
    svg.selectAll('*').remove();
    const defs = svg.append('defs');

    stormRows.forEach((rows, i) => {
      const col = i % 3;
      const row = Math.floor(i / 3);
      const left = lefts[col];
      const top = tops[row];
      const x = d3.scaleLinear().domain([-0.3, 6.24]).range([left, left + panelW]);
      const y = d3.scaleLinear().domain([-0.29, 6.24]).range([top + panelH, top]);

      defs.append('clipPath').attr('id', `clip${i}`)
        .append('rect').attr('x', left).attr('y', top).attr('width', panelW).attr('height', panelH);

      const g = svg.append('g');
      g.append('rect').attr('x', left).attr('y', top).attr('width', panelW).attr('height', panelH).attr('fill', '#fff');

      // grid
      const gridMinor = g.append('g').attr('stroke', '#EBEBEB').attr('stroke-width', 1.3);
      minorValues.forEach(v => {
        gridMinor.append('line').attr('x1', x(v)).attr('x2', x(v)).attr('y1', top).attr('y2', top + panelH);
        gridMinor.append('line').attr('y1', y(v)).attr('y2', y(v)).attr('x1', left).attr('x2', left + panelW);
      });
      const gridMajor = g.append('g').attr('stroke', '#EBEBEB').attr('stroke-width', 2.6);
      tickValues.forEach(v => {
        gridMajor.append('line').attr('x1', x(v)).attr('x2', x(v)).attr('y1', top).attr('y2', top + panelH);
        gridMajor.append('line').attr('y1', y(v)).attr('y2', y(v)).attr('x1', left).attr('x2', left + panelW);
      });

      const plot = g.append('g').attr('clip-path', `url(#clip${i})`);

      // where many ranges stack up the grey goes solid
      plot.append('g').selectAll('line').data(rows.filter(d => d[3] > d[2])).enter().append('line')
        .attr('x1', d => x(d[2])).attr('x2', d => x(d[3]))
        .attr('y1', d => y(d[0])).attr('y2', d => y(d[0]))
        .attr('stroke', '#BEBEBE').attr('stroke-opacity', d => (d[0] < thinCoreBelow[i] ? 0.5 : 0.85)).attr('stroke-width', 3.6);

      // full ranges
      plot.append('g').selectAll('line').data(rows).enter().append('line')
        .attr('x1', d => x(d[1])).attr('x2', d => x(d[4]))
        .attr('y1', d => y(d[0])).attr('y2', d => y(d[0]))
        .attr('stroke', '#BEBEBE').attr('stroke-opacity', 0.45).attr('stroke-width', 3);

      const points = rows.flatMap(d => d.slice(5).map(m => ({ truth: d[0], median: m })));
      plot.append('g').selectAll('circle').data(points).enter().append('circle')
        .attr('cx', d => x(d.median)).attr('cy', d => y(d.truth)).attr('r', 6.7)
        .attr('fill', '#FF0000').attr('fill-opacity', 0.55);

      plot.append('line')
        .attr('x1', x(-0.3)).attr('y1', y(-0.29)).attr('x2', x(6.24)).attr('y2', y(6.24))
        .attr('stroke', '#00BFFF').attr('stroke-width', 3.2).attr('stroke-dasharray', '12.82 12.82');

      g.append('rect').attr('x', left).attr('y', top).attr('width', panelW).attr('height', panelH)
        .attr('fill', 'none').attr('stroke', '#333333').attr('stroke-width', 2.6);

      // strip
      g.append('rect').attr('x', left).attr('y', top - stripH).attr('width', panelW).attr('height', stripH)
        .attr('fill', '#D9D9D9').attr('stroke', '#333333').attr('stroke-width', 2.6);
      g.append('text').attr('x', left + panelW / 2 - 1).attr('y', top - 14.5)
        .attr('text-anchor', 'middle').attr('font-family', sans).attr('font-size', 40).attr('fill', '#1A1A1A')
        .text(stormNames[i]);

      if (col === 0) {
        tickValues.forEach(v => {
          g.append('line').attr('x1', left - 7.5).attr('x2', left).attr('y1', y(v)).attr('y2', y(v))
            .attr('stroke', '#333333').attr('stroke-width', 2.6);
          g.append('text').attr('x', left - 13).attr('y', y(v) + 8.5).attr('text-anchor', 'end')
            .attr('font-family', sans).attr('font-size', 23.5).attr('fill', '#4D4D4D').text(v);
        });
      }
      if (row === 1) {
        tickValues.forEach(v => {
          g.append('line').attr('x1', x(v)).attr('x2', x(v)).attr('y1', top + panelH).attr('y2', top + panelH + 7.5)
            .attr('stroke', '#333333').attr('stroke-width', 2.6);
          g.append('text').attr('x', x(v)).attr('y', top + panelH + 31).attr('text-anchor', 'middle')
            .attr('font-family', sans).attr('font-size', 23.5).attr('fill', '#4D4D4D').text(v);
        });
      }
    });

    svg.append('text').attr('x', 1204).attr('y', 1138).attr('text-anchor', 'middle')
      .attr('font-family', sans).attr('font-size', 29).attr('fill', '#000').text('Median Prediction');
    svg.append('text').attr('transform', 'translate(56,548) rotate(-90)').attr('text-anchor', 'middle')
      .attr('font-family', sans).attr('font-size', 29).attr('fill', '#000').text('Truth');
  }, []);

  return (
    <svg ref={ref} width={2292} height={1143}
      style={{ position: 'absolute', left: 0, top: 0, background: '#fff', display: 'block' }} />
  );
}
